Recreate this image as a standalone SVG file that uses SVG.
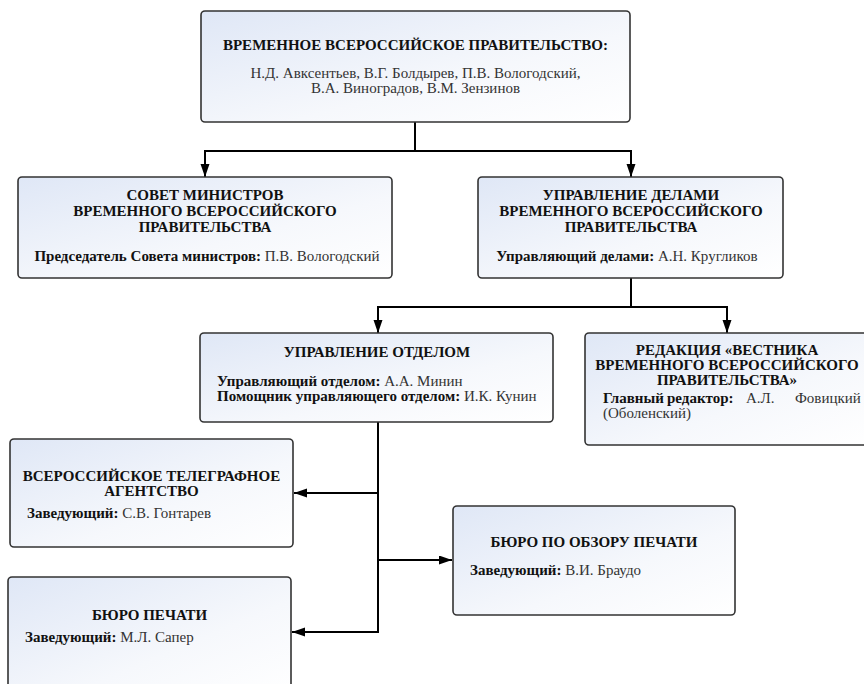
<svg xmlns="http://www.w3.org/2000/svg" width="864" height="684" viewBox="0 0 864 684" font-family="'Liberation Serif', 'DejaVu Serif', serif">
<defs>
<linearGradient id="g" x1="0" y1="0" x2="1" y2="1">
<stop offset="0" stop-color="#dfe7f6"/>
<stop offset="0.6" stop-color="#f6f8fc"/>
<stop offset="1" stop-color="#ffffff"/>
</linearGradient>
<marker id="ah" markerUnits="userSpaceOnUse" markerWidth="14" markerHeight="10" refX="13" refY="4.5" orient="auto">
<path d="M0,0 L13,4.5 L0,9 z" fill="#000"/>
</marker>
<style>
.box{fill:url(#g);stroke:#333;stroke-width:1.6}
text{font-family:'Liberation Serif','DejaVu Serif',serif;font-size:15px;fill:#333}
.t{font-weight:bold;fill:#111;text-anchor:middle}
.b{font-weight:bold;fill:#111}
.c{text-anchor:middle}
.con{fill:none;stroke:#000;stroke-width:2}
</style>
</defs>
<rect width="864" height="684" fill="#fff"/>
<g id="connectors">
<path class="con" d="M415 122 V151 H205 V177" marker-end="url(#ah)"/>
<path class="con" d="M415 151 H631 V177" marker-end="url(#ah)"/>
<path class="con" d="M631 278 V307 H378 V333" marker-end="url(#ah)"/>
<path class="con" d="M631 307 H727 V333" marker-end="url(#ah)"/>
<path class="con" d="M378 422 V632 H292" marker-end="url(#ah)"/>
<path class="con" d="M378 493 H294" marker-end="url(#ah)"/>
<path class="con" d="M378 560 H452" marker-end="url(#ah)"/>
</g>
<g id="n1">
<rect class="box" x="201" y="11" width="429" height="111" rx="4"/>
<text class="t" x="415.5" y="50">ВРЕМЕННОЕ ВСЕРОССИЙСКОЕ ПРАВИТЕЛЬСТВО:</text>
<text class="c" x="415.5" y="77.5">Н.Д. Авксентьев, В.Г. Болдырев, П.В. Вологодский,</text>
<text class="c" x="415.5" y="93">В.А. Виноградов, В.М. Зензинов</text>
</g>
<g id="n2">
<rect class="box" x="18" y="177" width="374" height="101" rx="4"/>
<text class="t" x="205" y="200">СОВЕТ МИНИСТРОВ</text>
<text class="t" x="205" y="216">ВРЕМЕННОГО ВСЕРОССИЙСКОГО</text>
<text class="t" x="205" y="232">ПРАВИТЕЛЬСТВА</text>
<text class="c" x="207" y="261"><tspan class="b">Председатель Совета министров:</tspan> П.В. Вологодский</text>
</g>
<g id="n3">
<rect class="box" x="478" y="177" width="305" height="101" rx="4"/>
<text class="t" x="631" y="200">УПРАВЛЕНИЕ ДЕЛАМИ</text>
<text class="t" x="631" y="216">ВРЕМЕННОГО ВСЕРОССИЙСКОГО</text>
<text class="t" x="631" y="232">ПРАВИТЕЛЬСТВА</text>
<text class="c" x="627" y="261"><tspan class="b">Управляющий делами:</tspan> А.Н. Кругликов</text>
</g>
<g id="n4">
<rect class="box" x="200" y="333" width="353" height="89" rx="4"/>
<text class="t" x="377" y="357">УПРАВЛЕНИЕ ОТДЕЛОМ</text>
<text x="217" y="386"><tspan class="b">Управляющий отделом:</tspan> А.А. Минин</text>
<text x="217" y="401"><tspan class="b">Помощник управляющего отделом:</tspan> И.К. Кунин</text>
</g>
<g id="n5">
<rect class="box" x="585" y="333" width="285" height="112" rx="4"/>
<text class="t" x="727" y="355">РЕДАКЦИЯ «ВЕСТНИКА</text>
<text class="t" x="727" y="370">ВРЕМЕННОГО ВСЕРОССИЙСКОГО</text>
<text class="t" x="727" y="385">ПРАВИТЕЛЬСТВА»</text>
<text y="403"><tspan class="b" x="603">Главный</tspan><tspan class="b" x="667">редактор:</tspan><tspan x="746">А.Л.</tspan><tspan x="795">Фовицкий</tspan></text>
<text x="603" y="418">(Оболенский)</text>
</g>
<g id="n6">
<rect class="box" x="10" y="439" width="283" height="108" rx="4"/>
<text class="t" x="151.5" y="481">ВСЕРОССИЙСКОЕ ТЕЛЕГРАФНОЕ</text>
<text class="t" x="151.5" y="496">АГЕНТСТВО</text>
<text x="27" y="518"><tspan class="b">Заведующий:</tspan> С.В. Гонтарев</text>
</g>
<g id="n7">
<rect class="box" x="453" y="506" width="282" height="109" rx="4"/>
<text class="t" x="594" y="547">БЮРО ПО ОБЗОРУ ПЕЧАТИ</text>
<text x="470" y="575"><tspan class="b">Заведующий:</tspan> В.И. Браудо</text>
</g>
<g id="n8">
<rect class="box" x="8" y="577" width="283" height="120" rx="4"/>
<text class="t" x="149.5" y="620">БЮРО ПЕЧАТИ</text>
<text x="25" y="642"><tspan class="b">Заведующий:</tspan> М.Л. Сапер</text>
</g>
</svg>
